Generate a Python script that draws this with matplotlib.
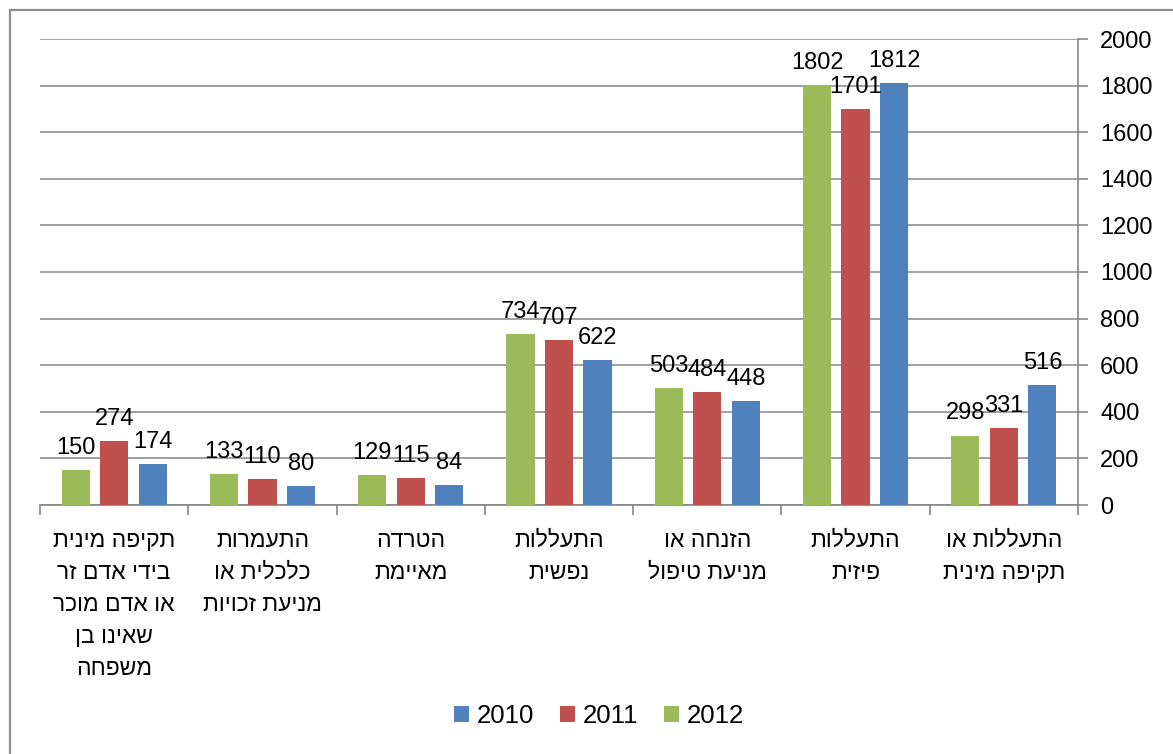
import numpy as np
import matplotlib.pyplot as plt
from matplotlib.patches import Rectangle

plt.rcParams['font.family'] = ['Liberation Sans', 'DejaVu Sans']

# categories in reading order (Hebrew, right to left on the chart)
categories = [
    "התעללות או\nתקיפה מינית",
    "התעללות\nפיזית",
    "הזנחה או\nמניעת טיפול",
    "התעללות\nנפשית",
    "הטרדה\nמאיימת",
    "התעמרות\nכלכלית או\nמניעת זכויות",
    "תקיפה מינית\nבידי אדם זר\nאו אדם מוכר\nשאינו בן\nמשפחה",
]
years = ['2010', '2011', '2012']
vals_2010 = [516, 1812, 448, 622, 84, 80, 174]
vals_2011 = [331, 1701, 484, 707, 115, 110, 274]
vals_2012 = [298, 1802, 503, 734, 129, 133, 150]
colors = ['#4F81BD', '#C0504D', '#9BBB59']


def visual(s):
    # matplotlib has no bidi support, so flip each line for display
    return '\n'.join(line[::-1] for line in s.split('\n'))


fig = plt.figure(figsize=(11.73, 7.54), dpi=100)
ax = fig.add_axes([40/1173, 1-505/754, (1078-40)/1173, (505-39)/754])

x = np.arange(len(categories))
w = 0.19
step = 0.26
for k, (vals, c) in enumerate(zip([vals_2010, vals_2011, vals_2012], colors)):
    pos = x - step + k*step
    bars = ax.bar(pos, vals, width=w, color=c, label=years[k], zorder=3)
    for b, v in zip(bars, vals):
        ax.annotate(str(v), (b.get_x() + b.get_width()/2, v), xytext=(0, 8),
                    textcoords='offset points', ha='center', va='bottom',
                    fontsize=17, zorder=4)

# right-to-left category axis
ax.set_xlim(len(categories)-0.5, -0.5)
ax.set_ylim(0, 2000)
ax.set_yticks(np.arange(0, 2001, 200))
ax.yaxis.tick_right()
ax.tick_params(axis='y', direction='out', length=7, width=1.2, color='#868686',
               labelsize=17, pad=9)
ax.grid(axis='y', color='#868686', lw=1.1, zorder=0)

ax.set_xticks(x)
ax.set_xticklabels([visual(c) for c in categories], fontsize=16.5, linespacing=1.5,
                   va='top')
ax.tick_params(axis='x', which='major', length=0, pad=17)
ax.set_xticks(np.arange(-0.5, len(categories)), minor=True)
ax.tick_params(axis='x', which='minor', direction='out', length=7, width=1.2,
               color='#868686')

for s in ['top', 'left']:
    ax.spines[s].set_visible(False)
for s in ['right', 'bottom']:
    ax.spines[s].set_color('#868686')
    ax.spines[s].set_linewidth(1.2)

ax.legend(loc='center', bbox_to_anchor=(599/1173, 1-716/754), bbox_transform=fig.transFigure,
          ncol=3, frameon=False, fontsize=18.5, handlelength=0.6, handleheight=0.6,
          handletextpad=0.3, columnspacing=1.0)

# outer chart border
fig.patches.append(Rectangle((10/1173, -0.1), 1.2, 1.1 - 10/754, transform=fig.transFigure,
                             fill=False, ec='#8c8c8c', lw=1.6))

fig.savefig('out.png', dpi=100)
